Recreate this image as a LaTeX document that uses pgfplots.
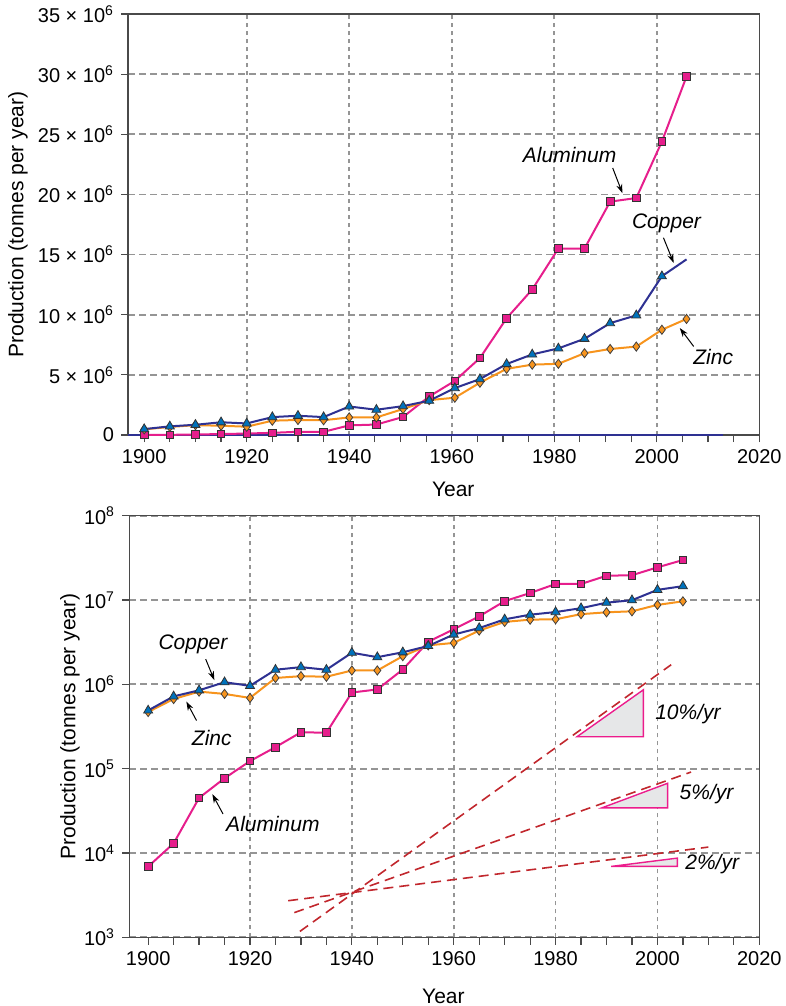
\documentclass[border=0pt]{standalone}
\usepackage{fontspec}
\setmainfont{Liberation Sans}
\usepackage{pgfplots}
\pgfplotsset{compat=1.18}
\usepackage{pgfplotstable}
\usetikzlibrary{arrows.meta}

\definecolor{alcol}{HTML}{E61E8C}
\definecolor{cucol}{HTML}{2E3192}
\definecolor{cufill}{HTML}{0072BC}
\definecolor{zncol}{HTML}{F7941D}
\definecolor{trend}{HTML}{C1272D}
\definecolor{tri}{HTML}{EC1C8C}
\definecolor{trifill}{HTML}{E6E7E8}
\definecolor{gridc}{HTML}{959595}
\definecolor{framec}{HTML}{4A4A4A}

\pgfplotstableread{
year yt al cu zn
1900 1900 6.9e3 4.9e5 4.7e5
1905 1905 1.3e4 7.2e5 6.7e5
1910 1910 4.5e4 8.5e5 8.2e5
1915 1915 7.7e4 1.06e6 7.7e5
1920 1920 1.23e5 9.6e5 6.9e5
1925 1925 1.8e5 1.49e6 1.19e6
1930 1930 2.7e5 1.6e6 1.25e6
1935 1935 2.67e5 1.49e6 1.23e6
1940 1940 8.0e5 2.37e6 1.46e6
1945 1945.3 8.7e5 2.1e6 1.46e6
1950 1950.5 1.5e6 2.4e6 2.16e6
1955 1955.6 3.2e6 2.85e6 2.9e6
1960 1960.6 4.5e6 3.9e6 3.1e6
1965 1965.5 6.4e6 4.65e6 4.35e6
1970 1970.7 9.7e6 5.9e6 5.5e6
1975 1975.7 12.1e6 6.7e6 5.85e6
1980 1980.8 15.5e6 7.2e6 5.92e6
1985 1985.9 15.5e6 8.0e6 6.8e6
1990 1990.9 19.4e6 9.3e6 7.15e6
1995 1996.0 19.7e6 9.95e6 7.35e6
2000 2001.0 24.4e6 13.2e6 8.75e6
2005 2005.8 29.8e6 14.6e6 9.65e6
}\metals

\tikzset{
  ann/.style={font=\itshape\fontsize{10.5}{12.5}\selectfont, inner sep=0pt},
  arr/.style={-{Stealth[length=4.5pt,width=3pt]}, black, line width=0.5pt},
}

\pgfplotsset{
  common/.style={
    scale only axis,
    anchor=south west,
    /pgf/number format/.cd, 1000 sep={}, assume math mode=true, /pgfplots/.cd,
    xtick={1920,1940,1960,1980,2000},
    extra x ticks={1900,2020},
    extra x tick style={grid=none},
    minor xtick={1900,1905,...,2020},
    tick pos=left,
    tick align=outside,
    major tick length=3.6pt,
    minor tick length=3.6pt,
    tick style={framec, line width=0.6pt},
    minor tick style={framec, line width=0.6pt},
    axis line style={framec, line width=0.8pt},
    xmajorgrids, ymajorgrids,
    major x grid style={gridc, line width=0.9pt, dash pattern=on 2pt off 2pt},
    major y grid style={gridc, line width=0.9pt, dash pattern=on 3.5pt off 2pt},
    tick label style={font=\fontsize{10}{12}\selectfont},
    label style={font=\fontsize{10.5}{12.5}\selectfont},
    xlabel={Year},
    ylabel={Production (tonnes per year)},
  },
  almark/.style={mark=square*, mark size=1.9pt, mark options={fill=alcol, draw=black!80, line width=0.4pt}},
  cumark/.style={mark=triangle*, mark size=2.6pt, mark options={fill=cufill, draw=black!80, line width=0.4pt}},
  znmark/.style={mark=diamond*, mark size=2.3pt, mark options={fill=zncol, draw=black!75, line width=0.4pt}},
}

\begin{document}
\begin{tikzpicture}
\useasboundingbox (0,0) rectangle (393pt,-503pt);

% ---------------- top (linear) ----------------
\begin{axis}[common,
  at={(64.15pt,-217.5pt)},
  width=315.5pt, height=210.5pt,
  xmin=1896.9, xmax=2020,
  ymin=0, ymax=35e6,
  scaled y ticks=false,
  ytick={0,5e6,10e6,15e6,20e6,25e6,30e6,35e6},
  yticklabels={0,{5 × 10\textsuperscript{6}},{10 × 10\textsuperscript{6}},{15 × 10\textsuperscript{6}},{20 × 10\textsuperscript{6}},{25 × 10\textsuperscript{6}},{30 × 10\textsuperscript{6}},{35 × 10\textsuperscript{6}}},
  clip=false,
  xlabel style={at={(axis description cs:0.515,-0.128)}, anchor=center},
  ylabel style={at={(axis description cs:-0.1748,0.5)}, anchor=center},
]
\addplot[cucol, line width=1.1pt] coordinates {(1896.9,0) (2013,0)};
\addplot[alcol, line width=1pt, almark] table[x=yt, y=al] {\metals};
\addplot[zncol, line width=1pt, znmark] table[x=yt, y=zn] {\metals};
\addplot[cucol, line width=1pt] table[x=yt, y=cu] {\metals};
\addplot[only marks, cumark, skip coords between index={21}{22}] table[x=yt, y=cu] {\metals};

\node[ann] at (axis cs:1983,23.3e6) {Aluminum};
\draw[arr] (axis cs:1991.4,22.2e6) -- (axis cs:1993.3,20.1e6);
\node[ann] at (axis cs:2001.9,17.6e6) {Copper};
\draw[arr] (axis cs:2001.3,16.4e6) -- (axis cs:2003.3,14.3e6);
\node[ann] at (axis cs:2011.0,6.45e6) {Zinc};
\draw[arr] (axis cs:2007.2,7.36e6) -- (axis cs:2004.5,8.89e6);
\end{axis}

% ---------------- bottom (log) ----------------
\begin{axis}[common,
  at={(64.65pt,-468.65pt)},
  width=315pt, height=210.8pt,
  xmin=1896.3, xmax=2020,
  ymode=log, ymin=1e3, ymax=1e8,
  yminorticks=false,
  ytick={1e3,1e4,1e5,1e6,1e7,1e8},
  yticklabels={{10\textsuperscript{3}},{10\textsuperscript{4}},{10\textsuperscript{5}},{10\textsuperscript{6}},{10\textsuperscript{7}},{10\textsuperscript{8}}},
  xlabel style={at={(axis description cs:0.4986,-0.139)}, anchor=center},
  ylabel style={at={(axis description cs:-0.0941,0.5)}, anchor=center},
]
\addplot[trend, line width=0.8pt, dash pattern=on 5pt off 3pt] coordinates {(1929.8,1175) (2002.7,1.71e6)};
\addplot[trend, line width=0.8pt, dash pattern=on 5pt off 3pt] coordinates {(1928.7,1963) (2006.6,9.12e4)};
\addplot[trend, line width=0.8pt, dash pattern=on 5pt off 3pt] coordinates {(1927.5,2716) (2010,1.175e4)};

\addplot[draw=tri, fill=trifill, line width=0.7pt] coordinates {(1984.2,2.39e5) (1997.25,2.39e5) (1997.25,8.63e5)} -- cycle;
\addplot[draw=tri, fill=trifill, line width=0.7pt] coordinates {(1989.1,3.43e4) (2002.0,3.43e4) (2002.0,6.71e4)} -- cycle;
\addplot[draw=tri, fill=trifill, line width=0.7pt] coordinates {(1990.9,6.93e3) (2003.9,6.93e3) (2003.9,8.69e3)} -- cycle;

\addplot[alcol, line width=1pt, almark] table[x=year, y=al] {\metals};
\addplot[zncol, line width=1pt, znmark] table[x=year, y=zn] {\metals};
\addplot[cucol, line width=1pt, cumark] table[x=year, y=cu] {\metals};

\node[ann, anchor=west] at (axis cs:1999.5,4.49e5) {10\%/yr};
\node[ann, anchor=west] at (axis cs:2004.3,4.99e4) {5\%/yr};
\node[ann, anchor=west] at (axis cs:2005.4,7.41e3) {2\%/yr};

\node[ann] at (axis cs:1908.8,2.99e6) {Copper};
\draw[arr] (axis cs:1911.3,1.99e6) -- (axis cs:1913.0,1.12e6);
\node[ann] at (axis cs:1912.5,2.31e5) {Zinc};
\draw[arr] (axis cs:1909.5,3.72e5) -- (axis cs:1907.5,6.25e5);
\node[ann] at (axis cs:1924.5,2.21e4) {Aluminum};
\draw[arr] (axis cs:1914.7,2.9e4) -- (axis cs:1912.6,4.99e4);
\end{axis}
\end{tikzpicture}
\end{document}
